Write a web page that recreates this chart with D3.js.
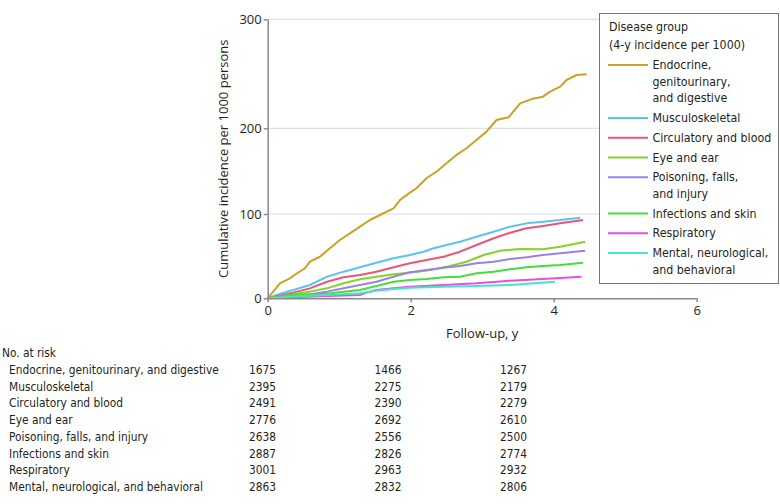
<!DOCTYPE html>
<html lang="en">
<head>
    <meta charset="UTF-8">
    <title>Cumulative incidence by disease group</title>
    <script src="https://d3js.org/d3.v7.min.js"></script>
    <style>
        body { margin: 0; background: #fff; }
        svg { display: block; }
        .narrow { font-family: "DejaVu Sans Condensed", "DejaVu Sans", sans-serif; fill: #231f20; }
        .axis text { font-family: "Open Sans", "DejaVu Sans", sans-serif; font-size: 13px; fill: #231f20; }
        .axis path, .axis line { stroke: #8a8a8a; stroke-width: 1.5px; }
        .grid line { stroke: #d9d9d9; stroke-width: 1px; }
    </style>
</head>
<body>
<svg id="chart" width="780" height="504"></svg>
<script>
// ---- data ----
const groups = [
    "Endocrine, genitourinary, and digestive",
    "Musculoskeletal",
    "Circulatory and blood",
    "Eye and ear",
    "Poisoning, falls, and injury",
    "Infections and skin",
    "Respiratory",
    "Mental, neurological, and behavioral"
];
// legend wraps the long names
const legendLabels = [
    ["Endocrine,", "genitourinary,", "and digestive"],
    ["Musculoskeletal"],
    ["Circulatory and blood"],
    ["Eye and ear"],
    ["Poisoning, falls,", "and injury"],
    ["Infections and skin"],
    ["Respiratory"],
    ["Mental, neurological,", "and behavioral"]
];
const colors = ["#c9a227", "#5cc3ec", "#ec5577", "#86d12a", "#9b82e2", "#45dc3c", "#e64ee6", "#45e6c6"];

// [follow-up years, cumulative incidence per 1000]
const endocrine = [[0,0],[0.17,17.8],[0.31,23.7],[0.41,29.7],[0.52,35.6],[0.59,43.4],[0.73,49.3],[0.87,59.3],
    [1.01,69.2],[1.15,77.1],[1.29,85],[1.43,92.9],[1.57,98.8],[1.76,106.6],[1.85,116.3],[1.99,124.9],[2.08,130],
    [2.22,141.7],[2.36,149.4],[2.5,159.2],[2.64,168.9],[2.78,176.7],[2.92,186.4],[3.06,196.1],[3.2,207.6],
    [3.37,210.1],[3.53,222.9],[3.71,227.2],[3.85,229],[3.95,233.6],[4.09,238.2],[4.18,244.3],[4.32,248.9],[4.46,249.5]];
const musculoskeletal = [[0,0],[0.2,6],[0.36,9.8],[0.59,15.8],[0.83,25.6],[1.06,31.6],[1.29,36.8],[1.52,42.2],
    [1.76,47.4],[1.99,51.4],[2.18,55.3],[2.32,59.3],[2.5,63.2],[2.69,67.1],[2.92,73.1],[3.16,79],[3.39,84.9],
    [3.62,88.9],[3.85,90.9],[4.09,92.9],[4.37,95.6]];
const circulatory = [[0,0],[0.36,6.7],[0.59,11.8],[0.83,19.7],[1.06,24.9],[1.29,27.6],[1.52,31.6],[1.76,36.8],
    [1.99,41.5],[2.22,45.4],[2.46,49.3],[2.69,55.3],[2.92,63.2],[3.16,71.2],[3.39,77.8],[3.62,83],[3.85,85.8],
    [4.09,89],[4.41,92.9]];
const eyeEar = [[0,0],[0.36,4.7],[0.59,7.9],[0.83,11.8],[1.06,17.8],[1.29,22.5],[1.52,25.6],[1.76,28.4],
    [1.9,29.7],[2.1,31.5],[2.3,34],[2.55,38.3],[2.78,43.4],[3.02,51.4],[3.25,56.5],[3.53,58.5],[3.85,58.1],
    [4.09,61.2],[4.44,67.1]];
const poisoning = [[0,0],[0.36,2.7],[0.59,4.7],[0.83,7.9],[1.06,11.8],[1.29,15.8],[1.52,19.7],[1.76,25.6],
    [1.99,30.8],[2.22,33.6],[2.46,36.3],[2.69,38.3],[2.92,41.5],[3.16,43.4],[3.39,46.6],[3.62,48.6],[3.85,51.4],
    [4.09,53.4],[4.44,56.5]];
const infections = [[0,0],[0.36,3.6],[0.83,5.5],[1.06,7.9],[1.29,9.8],[1.52,14.6],[1.76,19.7],[1.99,21.7],
    [2.22,22.9],[2.46,24.9],[2.69,25.6],[2.92,29.7],[3.16,31.6],[3.39,34.4],[3.62,36.8],[3.85,38.3],[4.09,39.5],
    [4.41,42.2]];
const respiratory = [[0,0],[0.36,1.2],[0.83,2.7],[1.29,3.9],[1.38,6.7],[1.52,9.8],[1.76,11.8],[1.99,13.8],
    [2.46,15.8],[2.92,17.8],[3.39,20.9],[3.85,22.9],[4.39,25.6]];
const mental = [[0,0],[0.36,2],[0.83,3.9],[1.29,5.9],[1.52,9],[1.76,11],[1.99,12.6],[2.46,13.8],[2.92,14.6],
    [3.39,15.8],[4.02,19.7]];
const curves = [endocrine, musculoskeletal, circulatory, eyeEar, poisoning, infections, respiratory, mental];

const xTicks = [0, 2, 4, 6];
const yTicks = [0, 100, 200, 300];

// number at risk at 0, 2 and 4 years
const riskYears = [0, 2, 4];
const atRisk = [
    [1675, 1466, 1267],
    [2395, 2275, 2179],
    [2491, 2390, 2279],
    [2776, 2692, 2610],
    [2638, 2556, 2500],
    [2887, 2826, 2774],
    [3001, 2963, 2932],
    [2863, 2832, 2806]
];

// ---- layout ----
const svg = d3.select("#chart");
const plot = { left: 267.7, right: 696.7, top: 19.3, bottom: 298.3 };

const x = d3.scaleLinear().domain([0, 6]).range([plot.left, plot.right]);
// the printed axis is not evenly spaced: top band is stretched
const y = d3.scaleLinear().domain(yTicks).range([plot.bottom, 214, 128.3, plot.top]);

// gridlines
svg.append("g").attr("class", "grid")
    .selectAll("line")
    .data(yTicks.filter(d => d > 0))
    .join("line")
    .attr("x1", plot.left).attr("x2", plot.right)
    .attr("y1", d => y(d)).attr("y2", d => y(d));

// curves
const line = d3.line().x(d => x(d[0])).y(d => y(d[1]));
svg.append("g")
    .selectAll("path")
    .data(curves)
    .join("path")
    .attr("fill", "none")
    .attr("stroke", (d, i) => colors[i])
    .attr("stroke-width", 2)
    .attr("stroke-linejoin", "round")
    .attr("d", line);

// axes
svg.append("g").attr("class", "axis")
    .attr("transform", `translate(0,${plot.bottom})`)
    .call(d3.axisBottom(x).tickValues(xTicks).tickFormat(d3.format("d"))
        .tickSize(4).tickPadding(3).tickSizeOuter(0));
svg.append("g").attr("class", "axis")
    .attr("transform", `translate(${plot.left},0)`)
    .call(d3.axisLeft(y).tickValues(yTicks).tickFormat(d3.format("d"))
        .tickSize(4).tickPadding(2).tickSizeOuter(0));

svg.append("text")
    .attr("transform", `translate(223,${(plot.top + plot.bottom) / 2}) rotate(-90)`)
    .attr("text-anchor", "middle").attr("dominant-baseline", "central")
    .style("font-family", "'Open Sans', 'DejaVu Sans', sans-serif").style("font-size", "13px").style("fill", "#231f20")
    .text("Cumulative incidence per 1000 persons");

svg.append("text")
    .attr("x", x(3)).attr("y", 333)
    .attr("text-anchor", "middle").attr("dominant-baseline", "central")
    .style("font-family", "'Open Sans', 'DejaVu Sans', sans-serif").style("font-size", "13px").style("fill", "#231f20")
    .text("Follow-up, y");

// legend
const legend = svg.append("g").style("font-size", "12.3px");
legend.append("rect")
    .attr("x", 599.5).attr("y", 13.5).attr("width", 179).attr("height", 270)
    .attr("fill", "#fff").attr("stroke", "#777").attr("stroke-width", 1);
legend.append("text").attr("class", "narrow")
    .attr("x", 609).attr("y", 27.3).attr("dominant-baseline", "central")
    .text("Disease group");
legend.append("text").attr("class", "narrow")
    .attr("x", 609).attr("y", 45).attr("dominant-baseline", "central")
    .text("(4-y incidence per 1000)");

const lineH = 16.7, gap = 3;
let cy = 65;
legendLabels.forEach((lines, i) => {
    legend.append("line")
        .attr("x1", 608).attr("x2", 648)
        .attr("y1", cy).attr("y2", cy)
        .attr("stroke", colors[i]).attr("stroke-width", 2);
    lines.forEach((t, j) => {
        legend.append("text").attr("class", "narrow")
            .attr("x", 652.5).attr("y", cy + j * lineH)
            .attr("dominant-baseline", "central")
            .text(t);
    });
    cy += lines.length * lineH + gap;
});

// number at risk table
const tableX = d3.scaleLinear().domain([0, 4]).range([249, 500]);
const rowY = d3.scaleLinear().domain([0, 1]).range([370, 386.7]);
const table = svg.append("g").style("font-size", "11.8px");
table.append("text").attr("class", "narrow")
    .attr("x", 2).attr("y", rowY(-1)).attr("dominant-baseline", "central")
    .text("No. at risk");
table.selectAll("text.rowlab")
    .data(groups)
    .join("text").attr("class", "narrow rowlab")
    .attr("x", 9).attr("y", (d, i) => rowY(i)).attr("dominant-baseline", "central")
    .text(d => d);
atRisk.forEach((row, i) => {
    table.selectAll(null)
        .data(row)
        .join("text").attr("class", "narrow")
        .attr("x", (d, j) => tableX(riskYears[j])).attr("y", rowY(i))
        .attr("dominant-baseline", "central")
        .text(d => d);
});
</script>
</body>
</html>
